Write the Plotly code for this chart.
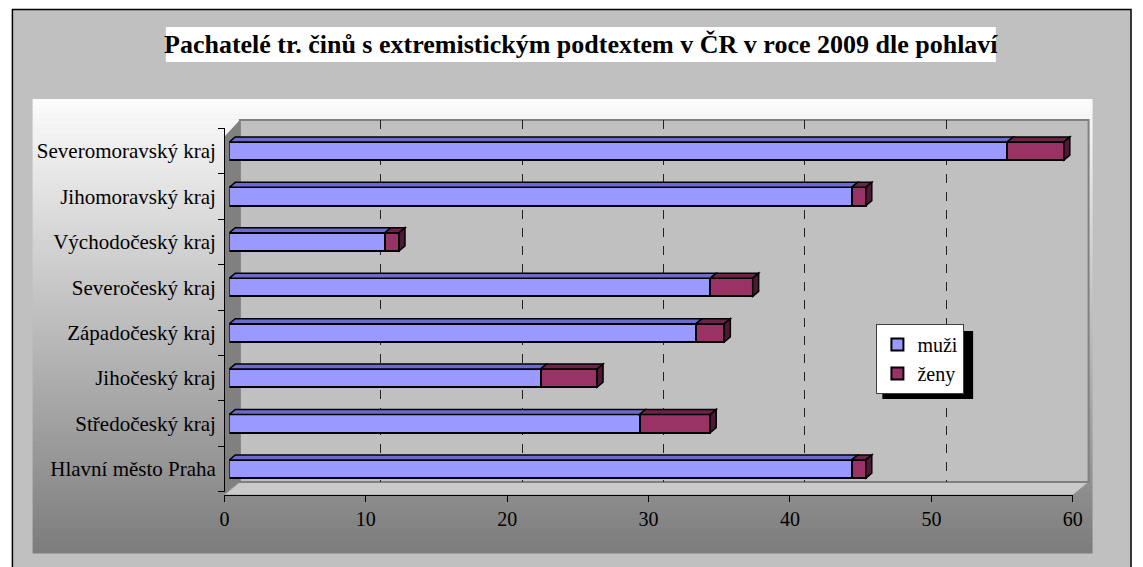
import plotly.graph_objects as go

W, H = 1143, 567

regions = ["Hlavní město Praha", "Středočeský kraj", "Jihočeský kraj", "Západočeský kraj",
           "Severočeský kraj", "Východočeský kraj", "Jihomoravský kraj", "Severomoravský kraj"]
muzi = [44, 29, 22, 33, 34, 11, 44, 55]
zeny = [1, 5, 4, 2, 3, 1, 1, 4]
x_ticks = [0, 10, 20, 30, 40, 50, 60]
grid_ticks = [10, 20, 30, 40, 50]

TITLE = "Pachatelé tr. činů s extremistickým podtextem v ČR v roce 2009 dle pohlaví"
FONT = "Liberation Serif"
BLUE, PURPLE = "#9999FF", "#993366"


def fx(p):
    return p / W


def fy(p):
    return 1 - p / H


fig = go.Figure()

# bars live on x2/y2 so that the back-wall grid (x/y) is drawn underneath them
fig.add_trace(go.Bar(y=regions, x=muzi, orientation="h", name="muži", xaxis="x2", yaxis="y2",
                     marker=dict(color=BLUE, line=dict(color="black", width=2))))
fig.add_trace(go.Bar(y=regions, x=zeny, orientation="h", name="ženy", xaxis="x2", yaxis="y2",
                     marker=dict(color=PURPLE, line=dict(color="black", width=2))))
# empty helpers so the grid axis and the front value axis get drawn
fig.add_trace(go.Scatter(x=[], y=[], xaxis="x", yaxis="y", showlegend=False, hoverinfo="skip"))
fig.add_trace(go.Scatter(x=[], y=[], xaxis="x3", yaxis="y2", showlegend=False, hoverinfo="skip"))

shapes = []

# outer frame
shapes.append(dict(type="rect", xref="paper", yref="paper", layer="below",
                   x0=fx(7.5), x1=fx(1141), y0=fy(570), y1=fy(9.5),
                   line=dict(color="black", width=1.5), fillcolor="#C0C0C0"))

# plot area with vertical white -> gray gradient (thin strips)
top, bottom, n = 99, 553, 90
step = (bottom - top) / n
for i in range(n):
    t = (i + 0.5) / n
    v = int(round(252 - t * (252 - 124)))
    c = f"rgb({v},{v},{v})"
    shapes.append(dict(type="rect", xref="paper", yref="paper", layer="below",
                       x0=fx(28), x1=fx(1102), y0=fy(top + (i + 1) * step + 0.6), y1=fy(top + i * step),
                       line=dict(width=0), fillcolor=c))

# 3D walls
shapes.append(dict(type="path", xref="paper", yref="paper", layer="below",
                   path=f"M {fx(222)},{fy(137)} L {fx(238)},{fy(120)} L {fx(238)},{fy(482)} L {fx(222)},{fy(495)} Z",
                   line=dict(width=0), fillcolor="#808080"))
shapes.append(dict(type="path", xref="paper", yref="paper", layer="below",
                   path=f"M {fx(222)},{fy(495)} L {fx(238)},{fy(482)} L {fx(1098)},{fy(482)} L {fx(1082)},{fy(495)} Z",
                   line=dict(color="#A0A0A0", width=1), fillcolor="#CACACA"))
shapes.append(dict(type="rect", xref="paper", yref="paper", layer="below",
                   x0=fx(238), x1=fx(1098), y0=fy(482), y1=fy(120),
                   line=dict(color="#808080", width=2), fillcolor="#C0C0C0"))

# title box
shapes.append(dict(type="rect", xref="paper", yref="paper", layer="below",
                   x0=fx(163), x1=fx(1004), y0=fy(62), y1=fy(27),
                   line=dict(width=0), fillcolor="white"))

# legend shadow
shapes.append(dict(type="rect", xref="paper", yref="paper", layer="above",
                   x0=fx(889), x1=fx(981), y0=fy(399), y1=fy(331),
                   line=dict(width=0), fillcolor="black"))

# 3D top / end faces of the bars, derived from the data
dx, dy, hw = 0.42, 0.11, 0.2
for i, (m, z) in enumerate(zip(muzi, zeny)):
    yt = i + hw
    shapes.append(dict(type="path", xref="x2", yref="y2", layer="above",
                       path=f"M 0,{yt} L {m},{yt} L {m + dx},{yt + dy} L {dx},{yt + dy} Z",
                       line=dict(color="black", width=1.5), fillcolor="#6B6BCC"))
    shapes.append(dict(type="path", xref="x2", yref="y2", layer="above",
                       path=f"M {m},{yt} L {m + z},{yt} L {m + z + dx},{yt + dy} L {m + dx},{yt + dy} Z",
                       line=dict(color="black", width=1.5), fillcolor="#6B2447"))
    e = m + z
    shapes.append(dict(type="path", xref="x2", yref="y2", layer="above",
                       path=f"M {e},{i - hw} L {e},{yt} L {e + dx},{yt + dy} L {e + dx},{i - hw + dy} Z",
                       line=dict(color="black", width=1.5), fillcolor="#4D1A33"))

fig.update_layout(
    width=W, height=H,
    margin=dict(l=0, r=0, t=0, b=0),
    paper_bgcolor="white", plot_bgcolor="rgba(0,0,0,0)",
    font=dict(family=FONT, color="black", size=20),
    barmode="stack", bargap=0.6,
    showlegend=True,
    legend=dict(x=fx(883), y=fy(324), xanchor="left", yanchor="top",
                bgcolor="white", bordercolor="#404040", borderwidth=1,
                font=dict(family=FONT, size=20), traceorder="normal", itemwidth=30),
    # back wall grid
    xaxis=dict(domain=[fx(237.3), fx(1097.3)], range=[0, 60], anchor="y",
               tickvals=grid_ticks, showticklabels=False, ticks="",
               showgrid=True, gridcolor="#222222", griddash="dash", gridwidth=1,
               zeroline=False, showline=False),
    yaxis=dict(domain=[fy(482), fy(120)], range=[0, 1], anchor="x", visible=False),
    # bars
    xaxis2=dict(domain=[fx(227.3), fx(1087.3)], range=[0, 60], anchor="y2", visible=False),
    yaxis2=dict(domain=[fy(491.7), fy(128.3)], range=[-0.5, 7.5], type="category",
                anchor="free", position=fx(222), showline=True, linecolor="black", linewidth=1,
                ticks="outside", tickson="boundaries", ticklen=6, tickcolor="black",
                showgrid=False, zeroline=False, ticklabelstandoff=4,
                tickfont=dict(family=FONT, size=21)),
    # front value axis
    xaxis3=dict(domain=[fx(222.3), fx(1082)], range=[0, 60], anchor="free", position=fy(495),
                tickvals=x_ticks, showline=True, linecolor="black", linewidth=1,
                ticks="outside", ticklen=6, tickcolor="black",
                showgrid=False, zeroline=False, tickfont=dict(family=FONT, size=20)),
    shapes=shapes,
    annotations=[dict(text=f"<b>{TITLE}</b>", xref="paper", yref="paper", x=fx(584), y=fy(45),
                      xanchor="center", yanchor="middle", showarrow=False,
                      font=dict(family=FONT, size=26, color="black"))],
)

# drop the default page margin and scrollbars so the figure fills the window exactly
fig.write_html(
    "out.html",
    config={"displayModeBar": False},
    post_script="document.body.style.margin='0';"
                "document.body.style.overflow='hidden';"
                "document.documentElement.style.overflow='hidden';",
)
